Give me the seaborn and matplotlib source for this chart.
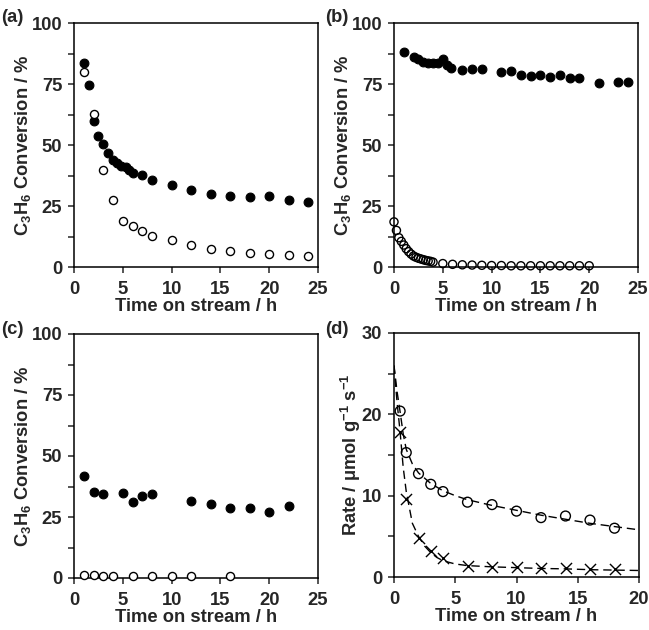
import matplotlib
matplotlib.use("Agg")
import matplotlib.pyplot as plt
import seaborn as sns
import pandas as pd
import numpy as np
from matplotlib.ticker import MultipleLocator

# ---------------- data ----------------
# (a)
a_filled_t = [1, 1.5, 2, 2.5, 3, 3.5, 4, 4.4, 4.85, 5.3, 5.65, 6.05, 7, 8, 10, 12, 14, 16, 18, 20, 22, 24]
a_filled_y = [83.8, 74.4, 60.0, 53.8, 50.5, 46.6, 43.8, 42.5, 41.5, 40.8, 39.7, 38.6, 37.7, 35.6, 33.6, 31.6, 30.1, 29.0, 28.5, 29.0, 27.3, 26.6]
a_open_t = [1, 2, 3, 4, 5, 6, 7, 8, 10, 12, 14, 16, 18, 20, 22, 24]
a_open_y = [80.1, 62.7, 39.6, 27.4, 18.8, 17.0, 14.9, 12.9, 11.1, 8.9, 7.5, 6.4, 5.9, 5.3, 4.8, 4.5]

# (b)
b_filled_t = [1, 2, 2.5, 3, 3.5, 4, 4.5, 5, 5.4, 5.8, 7, 8, 9, 11, 12, 13, 14, 15, 16, 17, 18, 19, 21, 23, 24]
b_filled_y = [88.2, 86.2, 85.2, 83.9, 83.6, 83.5, 83.5, 85.4, 82.8, 81.4, 80.8, 81.1, 81.1, 79.9, 80.4, 78.6, 78.4, 78.6, 77.9, 78.8, 77.5, 77.4, 75.5, 75.8, 75.8]
b_open_t = [0, 0.25, 0.5, 0.75, 1.0, 1.25, 1.5, 1.75, 2.0, 2.25, 2.5, 2.75, 3.0, 3.25, 3.5, 3.75, 4.0,
            5, 6, 7, 8, 9, 10, 11, 12, 13, 14, 15, 16, 17, 18, 19, 20]
b_open_y = [18.5, 15.0, 12.0, 10.5, 9.0, 7.5, 6.3, 5.3, 4.5, 4.0, 3.6, 3.3, 3.0, 2.7, 2.5, 2.3, 2.0,
            1.4, 1.1, 0.9, 0.8, 0.7, 0.6, 0.6, 0.5, 0.5, 0.5, 0.5, 0.5, 0.5, 0.5, 0.5, 0.5]

# (c)
c_filled_t = [1, 2, 3, 5, 6, 7, 8, 12, 14, 16, 18, 20, 22]
c_filled_y = [41.7, 35.1, 34.6, 34.8, 31.1, 33.6, 34.4, 31.4, 30.2, 28.6, 28.6, 27.2, 29.5]
c_open_t = [1, 2, 3, 4, 6, 8, 10, 12, 16]
c_open_y = [1.2, 1.1, 0.8, 0.7, 1.0, 1.0, 1.0, 0.7, 0.8]

# (d)
d_circ_t = [0.5, 1, 2, 3, 4, 6, 8, 10, 12, 14, 16, 18]
d_circ_y = [20.4, 15.3, 12.7, 11.4, 10.5, 9.2, 8.9, 8.1, 7.3, 7.5, 7.0, 6.0]
d_x_t = [0.5, 1, 2, 3, 4, 6, 8, 10, 12, 14, 16, 18]
d_x_y = [17.8, 9.6, 4.75, 3.2, 2.3, 1.4, 1.2, 1.2, 1.1, 1.1, 1.0, 1.0]
# fitted curves
fit_circ_t = [0, 0.25, 0.5, 0.75, 1, 1.5, 2, 3, 4, 5, 6, 8, 10, 12, 14, 16, 18, 20]
fit_circ_y = [26.0, 22.8, 20.3, 17.6, 15.7, 13.9, 12.8, 11.5, 10.6, 10.0, 9.5, 8.8, 8.2, 7.6, 7.1, 6.6, 6.2, 5.8]
fit_x_t = [0, 0.25, 0.5, 0.75, 1, 1.5, 2, 2.5, 3, 3.5, 4, 5, 6, 8, 10, 12, 14, 16, 18, 20]
fit_x_y = [26.0, 21.5, 17.8, 13.5, 10.5, 6.6, 5.0, 3.8, 3.0, 2.4, 2.0, 1.6, 1.4, 1.25, 1.15, 1.05, 1.0, 0.9, 0.85, 0.8]

# ---------------- style ----------------
sns.set_style("ticks")
plt.rcParams['font.family'] = ['Liberation Sans', 'DejaVu Sans']
plt.rcParams['font.weight'] = 'bold'
plt.rcParams['mathtext.fontset'] = 'custom'
plt.rcParams['mathtext.rm'] = 'Liberation Sans:bold'
plt.rcParams['mathtext.bf'] = 'Liberation Sans:bold'
plt.rcParams['mathtext.it'] = 'Liberation Sans:bold'
plt.rcParams['mathtext.default'] = 'bf'
plt.rcParams['axes.linewidth'] = 1.1

W, H = 649, 630
fig = plt.figure(figsize=(W / 100, H / 100), dpi=100)

def add_ax(left, top, right, bottom):
    return fig.add_axes([left / W, 1 - bottom / H, (right - left) / W, (bottom - top) / H])

ax_a = add_ax(74, 23, 318, 267)
ax_b = add_ax(394, 23, 638, 267)
ax_c = add_ax(74, 334, 318, 578)
ax_d = add_ax(394, 333, 639, 577)

FS = 13.2
MS = 40

def style_axes(ax, xmax, ymax, ymajor, yminor, ylabel):
    ax.set_xlim(0, xmax)
    ax.set_ylim(0, ymax)
    ax.xaxis.set_major_locator(MultipleLocator(5))
    ax.yaxis.set_major_locator(MultipleLocator(ymajor))
    ax.yaxis.set_minor_locator(MultipleLocator(yminor))
    ax.tick_params(axis='both', which='major', direction='out', length=4, width=1.1,
                   labelsize=FS)
    ax.tick_params(axis='x', which='major', pad=6)
    ax.tick_params(axis='y', which='major', pad=4.5)
    ax.tick_params(axis='y', which='minor', direction='out', length=4, width=1.1)
    for lab in ax.get_xticklabels() + ax.get_yticklabels():
        lab.set_fontweight('bold')
    ax.set_xlabel("Time on stream / h", fontsize=FS, fontweight='bold', labelpad=0)
    ax.set_ylabel(ylabel, fontsize=FS, fontweight='bold', labelpad=-1)
    for s in ax.spines.values():
        s.set_visible(True)
        s.set_linewidth(1.1)
        s.set_color('black')

conv_label = "C$_3$H$_6$ Conversion / %"

# (a)
sns.scatterplot(x=a_filled_t, y=a_filled_y, ax=ax_a, color='black', edgecolor='black',
                s=MS, marker='o', linewidth=0.8, zorder=3)
sns.scatterplot(x=a_open_t, y=a_open_y, ax=ax_a, color='white', edgecolor='black',
                s=MS - 6, marker='o', linewidth=1.0, zorder=4)
style_axes(ax_a, 25, 100, 25, 12.5, conv_label)

# (b)
sns.scatterplot(x=b_filled_t, y=b_filled_y, ax=ax_b, color='black', edgecolor='black',
                s=MS, marker='o', linewidth=0.8, zorder=3, clip_on=False)
sns.scatterplot(x=b_open_t, y=b_open_y, ax=ax_b, facecolor='none', edgecolor='black',
                s=MS - 6, marker='o', linewidth=1.0, zorder=4, clip_on=False)
style_axes(ax_b, 25, 100, 25, 12.5, conv_label)

# (c)
sns.scatterplot(x=c_filled_t, y=c_filled_y, ax=ax_c, color='black', edgecolor='black',
                s=MS, marker='o', linewidth=0.8, zorder=3)
sns.scatterplot(x=c_open_t, y=c_open_y, ax=ax_c, color='white', edgecolor='black',
                s=MS - 6, marker='o', linewidth=1.0, zorder=4, clip_on=False)
style_axes(ax_c, 25, 100, 25, 12.5, conv_label)

# (d)
sns.lineplot(x=fit_circ_t, y=fit_circ_y, ax=ax_d, color='black', linewidth=1.0,
             linestyle=(0, (6, 3.5)), sort=True, zorder=2)
sns.lineplot(x=fit_x_t, y=fit_x_y, ax=ax_d, color='black', linewidth=1.0,
             linestyle=(0, (6, 3.5)), sort=True, zorder=2)
sns.scatterplot(x=d_circ_t, y=d_circ_y, ax=ax_d, facecolor='none', edgecolor='black',
                s=50, marker='o', linewidth=1.0, zorder=3)
sns.scatterplot(x=d_x_t, y=d_x_y, ax=ax_d, color='black', s=64, marker='x',
                linewidth=1.0, zorder=3)
style_axes(ax_d, 20, 30, 10, 5, "Rate / μmol g$^{-1}$ s$^{-1}$")

# panel labels
for txt, x, y in [("(a)", 1, 17), ("(b)", 325, 17), ("(c)", 1, 329), ("(d)", 325, 329)]:
    fig.text(x / W, 1 - y / H, txt, fontsize=FS, fontweight='bold', ha='left', va='center')

fig.savefig("out.png", dpi=100)
